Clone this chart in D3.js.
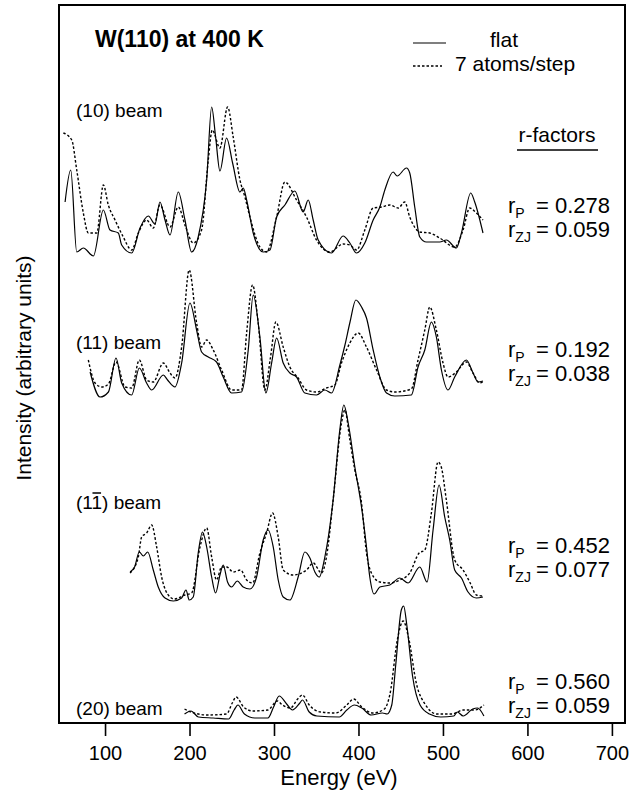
<!DOCTYPE html>
<html>
<head>
<meta charset="utf-8">
<script src="https://cdn.jsdelivr.net/npm/d3@7"></script>
<style>
  body { margin: 0; background: #fff; }
  svg text { font-family: "Liberation Sans", Arial, sans-serif; fill: #000; }
</style>
</head>
<body>
<svg id="chart" width="641" height="793"></svg>
<script>
// tick labels on the energy axis
const energyTicks = [100, 200, 300, 400, 500, 600, 700];

// beams, their vertical offsets (arbitrary units) and r-factors
const beamNames = ["(10) beam", "(11) beam", "(11) beam", "(20) beam"];
const beamOffsets = [467, 326, 122, 4];
const rP = ["0.278", "0.192", "0.452", "0.560"];
const rZJ = ["0.059", "0.038", "0.077", "0.059"];

// [energy (eV), intensity], relative to each beam's offset
const flat10 = [[52.7,54],[59.4,86],[66.5,4],[74.3,8],[86.2,0],[98,46],[105.9,26],[115.7,23],[119.7,11],[131.5,3],[141.4,28],[151.2,40],[159.1,32],[165,54],[171,36],[176.9,21],[186.7,64],[194.6,36],[202.5,4],[210.3,19],[220.3,76],[226.2,149],[230.9,119],[236,85],[243.9,118],[251,93],[259.7,64],[263.6,68],[267.6,56],[275.4,23],[287.2,4],[295.2,6],[303.1,39],[312.9,51],[324.7,65],[334.5,44],[340.5,56],[346.4,36],[352.3,16],[368.1,3],[381.8,20],[389.8,13],[397.7,3],[407.5,13],[417.4,36],[425.3,49],[431.2,66],[441,84],[445.8,80],[456.8,88],[460.7,83],[466.6,49],[472.6,19],[480.4,14],[496.2,14],[504.1,16],[515.9,8],[521.9,23],[532.9,63],[537.6,54],[547.4,23]];
const step10 = [[50.7,123],[60.6,116],[66.5,86],[74.3,43],[80.2,23],[90.2,23],[98,71],[103.9,51],[111.8,36],[121,20],[131.5,6],[139.4,23],[149.2,36],[157.1,28],[165,51],[176.9,29],[186.7,49],[195,30],[204.4,13],[214.3,26],[222.2,96],[226.9,126],[236,108],[245.1,149],[251.7,119],[259.7,76],[265.6,59],[271.5,39],[283.3,9],[291.2,4],[303.1,39],[312.9,74],[326.7,56],[338.5,39],[350.3,16],[366.1,4],[381.8,12],[389.8,11],[397.7,6],[407.5,26],[417.4,48],[427.3,49],[437.1,51],[447,48],[454.8,54],[460.7,39],[472.6,24],[484.4,23],[496.2,18],[513.9,9],[523.8,26],[531.7,48],[539.6,43],[547.4,36]];

const flat11 = [[82.3,25],[94.1,0],[104,5],[113,39],[119.7,14],[131.5,2],[140.6,29],[149.2,14],[155.2,7],[169,22],[174,17],[182.8,10],[190.7,34],[200.5,94],[208.4,67],[214.3,45],[222.2,40],[232,35],[239.9,20],[249.8,4],[261.6,5],[269.5,47],[275.4,102],[283.3,60],[290.4,4],[297.2,34],[303.1,59],[310.9,34],[318.8,24],[326.7,20],[336.5,4],[350.3,2],[360.2,7],[368.1,4],[378,32],[384,52],[390,75],[396.9,97],[403.6,90],[409.5,79],[417.4,47],[425.3,20],[433.2,4],[443,1],[462.6,2],[470.5,30],[478.5,47],[486.3,75],[492.2,60],[498.2,27],[506,7],[513.9,20],[527.7,37],[535.6,24],[541.5,15],[547.4,16]];
const step11 = [[80.2,37],[88.2,14],[96.1,10],[104,13],[113,35],[123.7,10],[131.5,9],[140.6,37],[149.2,17],[157.1,15],[169,34],[176.9,24],[182.8,19],[190.7,50],[199.6,127],[208.4,74],[214.3,50],[220.3,57],[228.1,47],[238,27],[249.8,7],[261.6,7],[267.6,64],[274.7,112],[281.3,74],[289.2,7],[295.9,40],[302.2,75],[310.9,50],[318.8,30],[328.6,19],[338.5,7],[350.3,5],[362.2,9],[372,12],[379.9,34],[385.8,47],[389.8,54],[399.6,64],[409.5,50],[421.4,27],[433.2,7],[443,5],[462.6,8],[470.5,37],[478.5,67],[484.4,90],[492.2,67],[500.1,34],[506,20],[515.9,25],[527.7,35],[535.6,24],[543.5,14],[548.3,16]];

const flat1m1 = [[129.6,29],[135,34],[140.6,49],[145.3,45],[150.5,49],[157.1,31],[163,14],[171,3],[180.8,0],[190.7,3],[195.8,11],[199.7,1],[204.4,4],[210.3,48],[215.4,69],[220.3,54],[226.2,24],[230.9,8],[236,26],[239.9,36],[245,19],[249.8,14],[256.5,20],[263.5,14],[271.5,12],[279.4,24],[287.2,61],[293.1,71],[299.1,54],[305,21],[310.9,4],[318.8,1],[328.6,24],[336.5,49],[342.5,43],[348.4,29],[353.5,24],[360.2,44],[370,101],[377.9,171],[382.7,196],[387.8,178],[395.7,134],[403.6,94],[409.5,54],[413.4,24],[418.5,7],[425.3,14],[437.1,16],[448.9,23],[458.7,18],[472.6,34],[481.2,19],[488.3,71],[495.4,116],[502.1,84],[508,61],[513.9,31],[521.9,23],[529.7,9],[539.6,3],[547.4,4]];
const step1m1 = [[129.6,28],[139.4,44],[143.3,64],[149.2,68],[155.2,76],[161.1,54],[167,24],[176.9,4],[182,2],[194.6,6],[202.5,8],[212.4,54],[220.3,73],[226.2,44],[232,21],[238,34],[244,34],[251.7,29],[260.4,31],[267.6,21],[274.7,18],[283.3,48],[291.2,68],[298.3,88],[305,64],[310.9,31],[322.7,26],[338.5,31],[346.4,38],[356.2,28],[362.1,44],[370,101],[379.9,178],[383.9,191],[389.8,161],[395.7,131],[403.6,98],[409.5,48],[415.3,28],[425.3,19],[437.1,18],[448.9,21],[460.7,28],[471.8,48],[478.5,51],[486.3,88],[494.2,139],[498,134],[504,101],[513.9,41],[523.8,31],[531.7,19],[539.6,6],[547.4,5]];

const flat20 = [[194.1,5],[201.7,8],[210.6,2],[228,1],[246.2,0],[252.8,9],[257.3,14],[265,5],[277.3,1],[292.8,1],[299.5,12],[306.1,23],[315,15],[321.8,9],[330.6,16],[333.7,19],[341.7,7],[350.7,3],[377.3,2],[386.2,9],[395.1,14],[403.9,11],[415.1,4],[428.4,6],[434,5],[439.4,14],[444.1,54],[450.7,109],[453.5,113],[457.2,94],[464,43],[472.9,14],[484,5],[497.4,2],[512.8,3],[517,7],[524,3],[535.2,10],[541,11],[548.5,3]];
const step20 = [[194.1,10],[201.7,7],[221.7,4],[243.9,5],[250.6,16],[255.1,22],[264,12],[275,8],[292.8,9],[303.9,18],[310,14],[319.5,11],[328,20],[333.7,24],[341.7,14],[355.1,7],[372.9,6],[386.2,14],[394.3,20],[403.9,12],[417.3,6],[430.7,10],[437.3,25],[446.2,80],[452.9,98],[459.6,80],[468.4,36],[479.5,14],[492.9,5],[510.8,5],[524,9],[537.4,9],[548.5,14]];

const flatSeries = [flat10, flat11, flat1m1, flat20];
const stepSeries = [step10, step11, step1m1, step20];

const svg = d3.select("#chart");
const plotLeft = 59, plotRight = 625, plotTop = 5, plotBottom = 723;

const x = d3.scaleLinear().domain([45.5, 715.5]).range([plotLeft, plotRight]);
const y = d3.scaleLinear().domain([0, 718]).range([plotBottom, plotTop]);

// frame
svg.append("rect")
    .attr("x", plotLeft).attr("y", plotTop)
    .attr("width", plotRight - plotLeft).attr("height", plotBottom - plotTop)
    .attr("fill", "none").attr("stroke", "#000").attr("stroke-width", 2);

// energy axis
const xAxis = svg.append("g")
    .attr("transform", `translate(0,${plotBottom})`)
    .call(d3.axisBottom(x).tickValues(energyTicks).tickSize(13).tickSizeOuter(0).tickPadding(10));
xAxis.select(".domain").remove();
xAxis.selectAll("line").attr("stroke-width", 1.6);
xAxis.selectAll("text").attr("font-size", 20).style("font-family", "Liberation Sans, Arial, sans-serif");

svg.append("text")
    .attr("x", (plotLeft + plotRight) / 2 - 3).attr("y", 785)
    .attr("text-anchor", "middle").attr("font-size", 22)
    .text("Energy (eV)");

svg.append("text")
    .attr("transform", "translate(31,368) rotate(-90)")
    .attr("text-anchor", "middle").attr("font-size", 21)
    .text("Intensity (arbitrary units)");

// curves
beamOffsets.forEach((off, i) => {
    const line = d3.line()
        .x(d => x(d[0]))
        .y(d => y(d[1] + off))
        .curve(d3.curveMonotoneX);
    svg.append("path").datum(flatSeries[i])
        .attr("d", line).attr("fill", "none")
        .attr("stroke", "#000").attr("stroke-width", 1.2);
    svg.append("path").datum(stepSeries[i])
        .attr("d", line).attr("fill", "none")
        .attr("stroke", "#000").attr("stroke-width", 1.4)
        .attr("stroke-dasharray", "2.5,2");
});

// beam labels
const labelY = [117, 349, 509, 715];
beamNames.forEach((name, i) => {
    const t = svg.append("text")
        .attr("x", 76).attr("y", labelY[i])
        .attr("font-size", 19).text(name);
    if (i === 2) {
        // bar over the second index: (1 1-bar)
        const n = t.node();
        const a = n.getStartPositionOfChar(2).x, b = n.getEndPositionOfChar(2).x;
        svg.append("line")
            .attr("x1", a + 1).attr("x2", b - 1)
            .attr("y1", labelY[i] - 16).attr("y2", labelY[i] - 16)
            .attr("stroke", "#000").attr("stroke-width", 1.5);
    }
});

// r-factors
svg.append("text")
    .attr("x", 557).attr("y", 142).attr("text-anchor", "middle")
    .attr("font-size", 21).text("r-factors");
svg.append("line")
    .attr("x1", 517).attr("x2", 598).attr("y1", 150).attr("y2", 150)
    .attr("stroke", "#000").attr("stroke-width", 1.5);

const rY = [213, 357, 553, 689];
rY.forEach((yy, i) => {
    [[rP[i], "P"], [rZJ[i], "ZJ"]].forEach(([val, sub], k) => {
        const base = yy + k * 24;
        const t = svg.append("text").attr("x", 508).attr("y", base).attr("font-size", 22);
        t.append("tspan").text("r");
        t.append("tspan").attr("font-size", 14).attr("dy", 5).text(sub);
        svg.append("text")
            .attr("x", 610).attr("y", base).attr("text-anchor", "end")
            .attr("font-size", 22).text("= " + val);
    });
});

// title and legend
svg.append("text").attr("x", 95).attr("y", 47)
    .attr("font-size", 23).attr("font-weight", "bold").text("W(110) at 400 K");

svg.append("line").attr("x1", 413).attr("x2", 446).attr("y1", 43).attr("y2", 43)
    .attr("stroke", "#000").attr("stroke-width", 1.2);
svg.append("line").attr("x1", 413).attr("x2", 442).attr("y1", 66).attr("y2", 66)
    .attr("stroke", "#000").attr("stroke-width", 1.4).attr("stroke-dasharray", "2.5,2");
svg.append("text").attr("x", 490).attr("y", 47).attr("font-size", 21).text("flat");
svg.append("text").attr("x", 455).attr("y", 71).attr("font-size", 21).text("7 atoms/step");
</script>
</body>
</html>
